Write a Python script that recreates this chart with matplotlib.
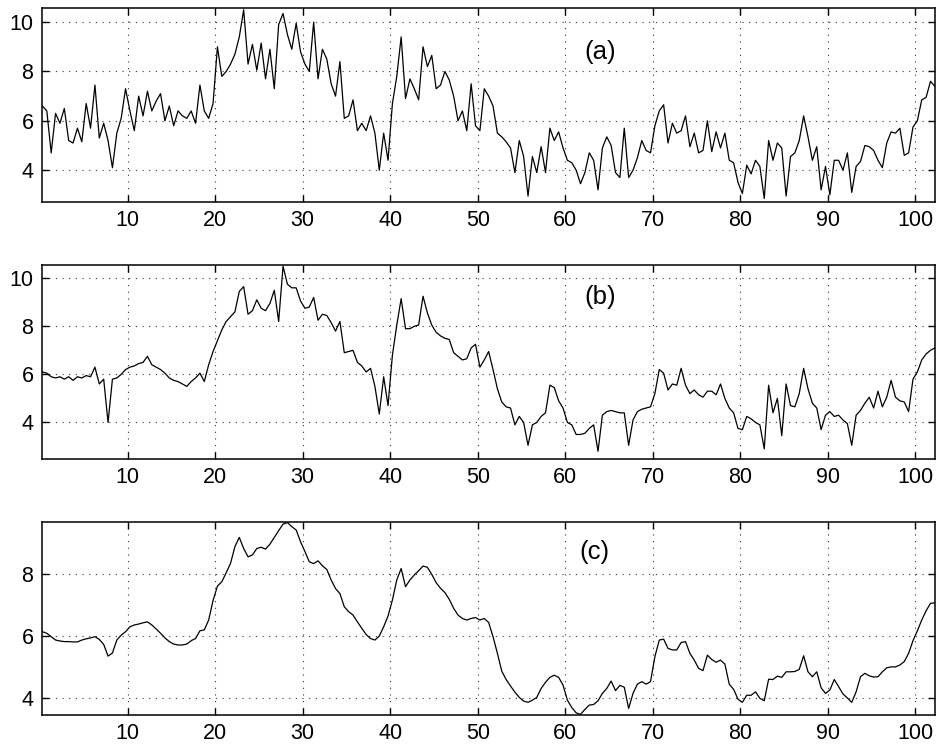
import numpy as np
import matplotlib
matplotlib.use("Agg")
import matplotlib.pyplot as plt

plt.rcParams['font.family'] = ['Liberation Sans', 'DejaVu Sans']

# Sample spacing of the three traces
X_START = 0.25
X_STEP = 0.5

# (a) raw signal
sig_a = [
    6.6, 6.4, 4.7, 6.3, 5.9, 6.5, 5.2, 5.1, 5.7, 5.15,
    6.7, 5.7, 7.45, 5.3, 5.9, 5.2, 4.1, 5.5, 6.1, 7.3,
    6.4, 5.6, 7.0, 6.2, 7.2, 6.4, 6.8, 7.1, 6.0, 6.6,
    5.8, 6.4, 6.2, 6.1, 6.4, 5.9, 7.45, 6.4, 6.1, 6.7,
    9.0, 7.8, 8.0, 8.3, 8.7, 9.4, 10.5, 8.3, 9.1, 8.05,
    9.15, 7.7, 8.9, 7.3, 9.9, 10.35, 9.5, 8.9, 9.95, 8.8,
    8.3, 8.0, 10.0, 7.7, 8.9, 8.5, 7.5, 7.0, 8.4, 6.1,
    6.2, 6.85, 5.6, 5.9, 5.6, 6.2, 5.5, 4.0, 5.5, 4.4,
    6.7, 7.8, 9.4, 6.9, 7.7, 7.3, 6.85, 9.0, 8.2, 8.65,
    7.3, 7.45, 8.0, 7.65, 7.0, 6.0, 6.4, 5.6, 7.5, 5.8,
    5.6, 7.3, 7.0, 6.6, 5.5, 5.35, 5.15, 4.9, 3.9, 5.2,
    4.55, 2.95, 4.55, 3.9, 4.95, 3.9, 5.7, 5.2, 5.55, 4.9,
    4.4, 4.3, 4.0, 3.45, 3.9, 4.7, 4.4, 3.2, 4.9, 5.35,
    5.0, 3.9, 3.7, 5.7, 3.7, 4.0, 4.5, 5.2, 4.8, 4.7,
    5.8, 6.4, 6.65, 5.1, 5.9, 5.5, 5.6, 6.2, 4.95, 5.5,
    4.7, 4.8, 6.0, 4.75, 5.55, 4.9, 5.5, 4.4, 4.3, 3.5,
    3.05, 4.2, 3.85, 4.4, 4.15, 2.85, 5.2, 4.4, 5.1, 4.9,
    2.95, 4.55, 4.7, 5.2, 6.2, 5.35, 4.4, 4.95, 3.2, 4.15,
    3.0, 4.4, 4.4, 4.0, 4.7, 3.1, 4.15, 4.35, 5.0, 4.95,
    4.8, 4.4, 4.1, 5.1, 5.55, 5.5, 5.7, 4.6, 4.7, 5.75,
    6.0, 6.85, 6.95, 7.6, 7.4,
]

# (b) partially filtered signal
sig_b = [
    6.1, 6.05, 5.9, 5.85, 5.9, 5.8, 5.9, 5.75, 5.9, 5.85,
    5.95, 5.9, 6.3, 5.6, 5.8, 4.0, 5.8, 5.85, 6.0, 6.2,
    6.3, 6.35, 6.45, 6.5, 6.75, 6.4, 6.3, 6.2, 6.05, 5.85,
    5.75, 5.7, 5.6, 5.5, 5.7, 5.85, 6.05, 5.7, 6.4, 6.95,
    7.4, 7.85, 8.2, 8.4, 8.6, 9.45, 9.65, 8.5, 8.65, 9.1,
    8.75, 8.65, 8.95, 9.5, 8.2, 10.5, 9.75, 9.6, 9.6, 9.05,
    8.75, 8.8, 9.2, 8.25, 8.5, 8.45, 8.15, 7.8, 8.2, 6.9,
    6.95, 7.0, 6.5, 6.35, 6.1, 6.25, 5.5, 4.35, 5.9, 4.7,
    6.8, 8.05, 9.15, 7.9, 7.9, 8.0, 8.05, 9.25, 8.55, 8.05,
    7.75, 7.6, 7.5, 7.45, 6.9, 6.75, 6.6, 6.65, 7.1, 7.25,
    6.3, 6.6, 6.95, 6.2, 5.4, 4.85, 4.65, 4.6, 3.9, 4.25,
    4.0, 3.05, 3.9, 4.0, 4.25, 4.4, 5.55, 5.45, 4.9, 4.6,
    4.0, 3.9, 3.5, 3.5, 3.55, 3.75, 3.9, 2.8, 4.3, 4.45,
    4.5, 4.45, 4.4, 4.4, 3.05, 4.1, 4.45, 4.55, 4.6, 4.65,
    5.2, 6.2, 6.05, 5.35, 5.6, 5.55, 6.25, 5.55, 5.2, 5.35,
    5.15, 5.05, 5.3, 5.3, 5.15, 5.6, 5.0, 4.6, 4.4, 3.75,
    3.7, 4.25, 4.15, 4.0, 3.9, 2.9, 5.55, 4.4, 5.0, 3.45,
    5.6, 4.7, 4.65, 5.2, 6.25, 5.4, 4.8, 4.6, 3.7, 4.3,
    4.45, 4.25, 4.3, 4.1, 3.95, 3.05, 4.3, 4.5, 4.8, 5.05,
    4.6, 5.3, 4.65, 5.05, 5.75, 5.05, 4.9, 4.85, 4.45, 5.8,
    6.1, 6.6, 6.85, 7.0, 7.1,
]

# (c) smoothed signal
sig_c = [
    6.14, 6.09, 5.98, 5.87, 5.84, 5.82, 5.82, 5.81, 5.81, 5.87,
    5.91, 5.94, 5.98, 5.89, 5.73, 5.35, 5.45, 5.87, 6.03, 6.14,
    6.3, 6.36, 6.39, 6.43, 6.46, 6.36, 6.23, 6.09, 5.94, 5.82,
    5.74, 5.71, 5.71, 5.74, 5.85, 5.92, 6.17, 6.2, 6.52, 7.15,
    7.62, 7.76, 8.05, 8.36, 8.9, 9.2, 8.84, 8.57, 8.63, 8.84,
    8.88, 8.82, 8.98, 9.2, 9.42, 9.63, 9.68, 9.55, 9.44, 9.06,
    8.74, 8.41, 8.35, 8.44, 8.28, 8.16, 7.82, 7.54, 7.38, 6.95,
    6.79, 6.68, 6.46, 6.25, 6.05, 5.92, 5.87, 6.0, 6.3, 6.65,
    7.17, 7.82, 8.19, 7.6, 7.82, 7.98, 8.12, 8.27, 8.23, 8.0,
    7.73, 7.55, 7.41, 7.19, 6.9, 6.68, 6.57, 6.52, 6.57, 6.6,
    6.52, 6.57, 6.44, 5.98, 5.44, 4.86, 4.59, 4.38, 4.18, 4.01,
    3.89, 3.85, 3.92, 4.01, 4.3, 4.5, 4.66, 4.73, 4.66, 4.41,
    3.92, 3.68, 3.51, 3.46, 3.62, 3.76, 3.78, 3.9, 4.14, 4.3,
    4.54, 4.23, 4.4, 4.34, 3.65, 4.14, 4.44, 4.52, 4.44, 4.52,
    5.33, 5.87, 5.9, 5.6, 5.55, 5.55, 5.79, 5.82, 5.44, 5.22,
    4.95, 4.88, 5.38, 5.24, 5.15, 5.22, 5.09, 4.44, 4.27, 3.95,
    3.85, 4.08, 4.08, 4.19, 3.98, 3.9, 4.6, 4.59, 4.7, 4.66,
    4.84, 4.84, 4.85, 4.92, 5.36, 4.84, 4.68, 4.84, 4.32, 4.14,
    4.25, 4.59, 4.36, 4.12, 3.99, 3.85, 4.19, 4.68, 4.79, 4.71,
    4.67, 4.68, 4.84, 4.97, 5.0, 5.0, 5.06, 5.17, 5.44, 5.85,
    6.17, 6.52, 6.82, 7.06, 7.08,
]

panel_tags = ["(a)", "(b)", "(c)"]
x_ticks = [10, 20, 30, 40, 50, 60, 70, 80, 90, 100]
y_ticks = [[4, 6, 8, 10], [4, 6, 8, 10], [4, 6, 8]]
y_limits = [(2.72, 10.57), (2.5, 10.55), (3.44, 9.71)]
x_limits = (0.17, 102.3)

fig = plt.figure(figsize=(9.4, 7.53), dpi=100)
fig.patch.set_facecolor("white")

boxes = [
    [0.0444, 0.7321, 0.9506, 0.2572],
    [0.0444, 0.3911, 0.9506, 0.2570],
    [0.0444, 0.0505, 0.9506, 0.2567],
]
tag_pos = [(0.625, 0.773), (0.625, 0.836), (0.619, 0.845)]

for i, sig in enumerate([sig_a, sig_b, sig_c]):
    ax = fig.add_axes(boxes[i])
    xs = X_START + X_STEP * np.arange(len(sig))
    ax.plot(xs, sig, color="black", lw=0.9, zorder=3)
    ax.set_xlim(*x_limits)
    ax.set_ylim(*y_limits[i])
    ax.set_xticks(x_ticks)
    ax.set_yticks(y_ticks[i])
    ax.grid(True, color="#333333", linestyle=(0, (1, 5)), linewidth=0.8)
    ax.tick_params(direction="in", length=5, width=1.0, top=True, right=True,
                   labelsize=15.5, colors="black", pad=6)
    for sp in ax.spines.values():
        sp.set_linewidth(1.1)
    ax.text(tag_pos[i][0], tag_pos[i][1], panel_tags[i], transform=ax.transAxes,
            ha="center", va="center", fontsize=18.5)

fig.savefig("out.png", dpi=100, facecolor="white")
